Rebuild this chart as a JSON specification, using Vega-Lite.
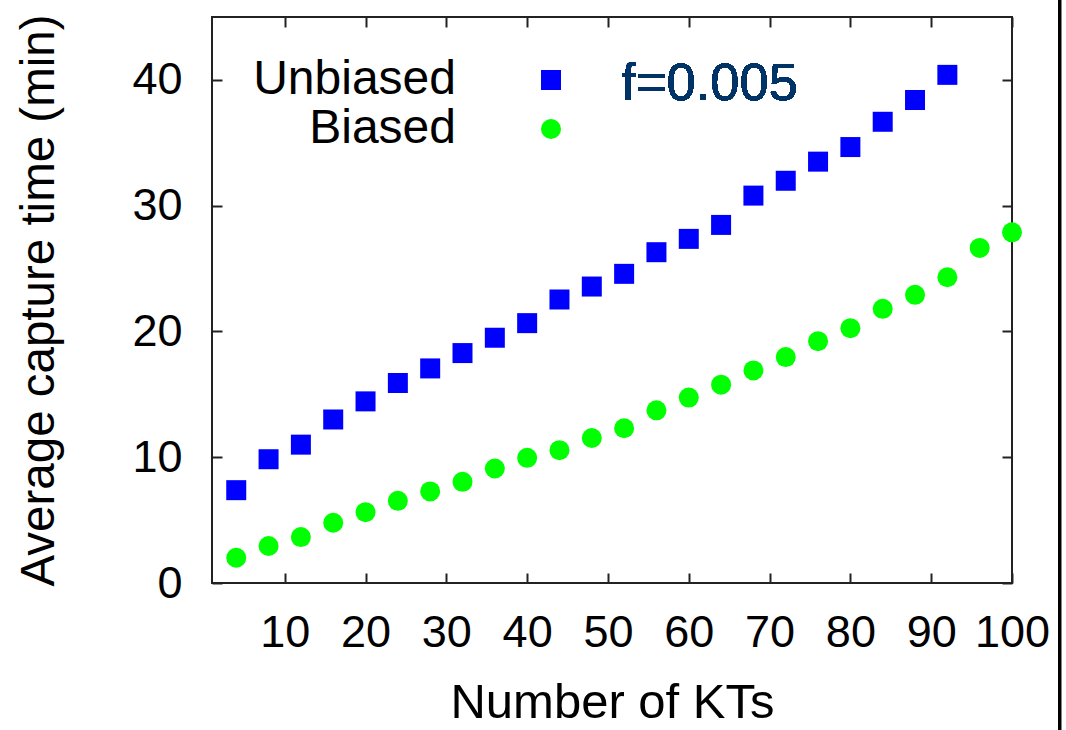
{
  "$schema": "https://vega.github.io/schema/vega-lite/v6.json",
  "width": 800,
  "height": 566,
  "autosize": {"type": "none"},
  "padding": {"left": 212, "top": 17, "right": 54, "bottom": 147},
  "background": "white",
  "config": {
    "view": {"stroke": "#222222", "strokeWidth": 2},
    "font": "Liberation Sans",
    "axis": {
      "grid": false,
      "domain": false,
      "tickColor": "#222222",
      "tickWidth": 2,
      "tickSize": -10,
      "labelFont": "Liberation Sans",
      "labelFontSize": 45,
      "labelColor": "black",
      "titleFont": "Liberation Sans",
      "titleFontSize": 47.5,
      "titleFontWeight": "normal",
      "titleColor": "black"
    }
  },
  "data": {
    "values": [
      {"kts": 4, "time": 7.38, "series": "Unbiased"},
      {"kts": 8, "time": 9.84, "series": "Unbiased"},
      {"kts": 12, "time": 11.0, "series": "Unbiased"},
      {"kts": 16, "time": 13.0, "series": "Unbiased"},
      {"kts": 20, "time": 14.44, "series": "Unbiased"},
      {"kts": 24, "time": 15.9, "series": "Unbiased"},
      {"kts": 28, "time": 17.06, "series": "Unbiased"},
      {"kts": 32, "time": 18.28, "series": "Unbiased"},
      {"kts": 36, "time": 19.5, "series": "Unbiased"},
      {"kts": 40, "time": 20.66, "series": "Unbiased"},
      {"kts": 44, "time": 22.54, "series": "Unbiased"},
      {"kts": 48, "time": 23.57, "series": "Unbiased"},
      {"kts": 52, "time": 24.58, "series": "Unbiased"},
      {"kts": 56, "time": 26.3, "series": "Unbiased"},
      {"kts": 60, "time": 27.36, "series": "Unbiased"},
      {"kts": 64, "time": 28.47, "series": "Unbiased"},
      {"kts": 68, "time": 30.8, "series": "Unbiased"},
      {"kts": 72, "time": 31.98, "series": "Unbiased"},
      {"kts": 76, "time": 33.5, "series": "Unbiased"},
      {"kts": 80, "time": 34.66, "series": "Unbiased"},
      {"kts": 84, "time": 36.67, "series": "Unbiased"},
      {"kts": 88, "time": 38.4, "series": "Unbiased"},
      {"kts": 92, "time": 40.4, "series": "Unbiased"},
      {"kts": 4, "time": 2.01, "series": "Biased"},
      {"kts": 8, "time": 2.94, "series": "Biased"},
      {"kts": 12, "time": 3.65, "series": "Biased"},
      {"kts": 16, "time": 4.79, "series": "Biased"},
      {"kts": 20, "time": 5.63, "series": "Biased"},
      {"kts": 24, "time": 6.53, "series": "Biased"},
      {"kts": 28, "time": 7.28, "series": "Biased"},
      {"kts": 32, "time": 8.04, "series": "Biased"},
      {"kts": 36, "time": 9.1, "series": "Biased"},
      {"kts": 40, "time": 9.95, "series": "Biased"},
      {"kts": 44, "time": 10.56, "series": "Biased"},
      {"kts": 48, "time": 11.53, "series": "Biased"},
      {"kts": 52, "time": 12.3, "series": "Biased"},
      {"kts": 56, "time": 13.73, "series": "Biased"},
      {"kts": 60, "time": 14.74, "series": "Biased"},
      {"kts": 64, "time": 15.77, "series": "Biased"},
      {"kts": 68, "time": 16.9, "series": "Biased"},
      {"kts": 72, "time": 17.96, "series": "Biased"},
      {"kts": 76, "time": 19.23, "series": "Biased"},
      {"kts": 80, "time": 20.26, "series": "Biased"},
      {"kts": 84, "time": 21.8, "series": "Biased"},
      {"kts": 88, "time": 22.91, "series": "Biased"},
      {"kts": 92, "time": 24.31, "series": "Biased"},
      {"kts": 96, "time": 26.64, "series": "Biased"},
      {"kts": 100, "time": 27.88, "series": "Biased"}
    ]
  },
  "resolve": {"axis": {"x": "independent", "y": "independent"}},
  "layer": [
    {
      "mark": {"type": "point", "filled": true, "opacity": 1, "size": 400, "strokeWidth": 0},
      "encoding": {
        "x": {
          "field": "kts", "type": "quantitative",
          "scale": {"domain": [1, 100], "nice": false, "zero": false},
          "axis": {"orient": "bottom", "values": [10, 20, 30, 40, 50, 60, 70, 80, 90, 100], "title": "Number of KTs", "titleFontSize": 49, "labelPadding": 37, "titlePadding": 23, "labelFlush": false, "labelOverlap": false}
        },
        "y": {
          "field": "time", "type": "quantitative",
          "scale": {"domain": [0, 45], "nice": false, "zero": false},
          "axis": {"orient": "left", "values": [0, 10, 20, 30, 40], "title": "Average capture time (min)", "labelPadding": 40, "titlePadding": 68, "labelFlush": false, "labelOverlap": false}
        },
        "color": {
          "field": "series", "type": "nominal",
          "scale": {"domain": ["Unbiased", "Biased"], "range": ["#0000ff", "#00ff00"]},
          "legend": {"orient": "none", "legendX": 315, "legendY": 39, "title": null, "labelFont": "Liberation Sans", "labelFontSize": 48, "labelColor": "black", "labelAlign": "right", "labelOffset": -119, "symbolSize": 400, "symbolStrokeWidth": 0, "rowPadding": 1, "labelLimit": 0}
        },
        "shape": {
          "field": "series", "type": "nominal",
          "scale": {"domain": ["Unbiased", "Biased"], "range": ["square", "circle"]},
          "legend": {"orient": "none", "legendX": 315, "legendY": 39, "title": null, "labelFont": "Liberation Sans", "labelFontSize": 48, "labelColor": "black", "labelAlign": "right", "labelOffset": -119, "symbolSize": 400, "symbolStrokeWidth": 0, "rowPadding": 1, "labelLimit": 0}
        }
      }
    },
    {
      "mark": {"type": "text", "text": "f=0.005", "font": "Liberation Sans", "fontSize": 52.5, "color": "#003366", "align": "left", "baseline": "alphabetic"},
      "encoding": {
        "x": {"datum": 51.65, "type": "quantitative", "scale": {"domain": [1, 100], "nice": false, "zero": false},
          "axis": {"orient": "top", "values": [10, 20, 30, 40, 50, 60, 70, 80, 90, 100], "labels": false, "title": null}},
        "y": {"datum": 38.4, "type": "quantitative", "scale": {"domain": [0, 45], "nice": false, "zero": false},
          "axis": {"orient": "right", "values": [0, 10, 20, 30, 40], "labels": false, "title": null}}
      }
    },
    {
      "mark": {"type": "rule", "color": "black", "strokeWidth": 3},
      "encoding": {
        "x": {"datum": 105.88, "type": "quantitative", "scale": {"domain": [1, 100], "nice": false, "zero": false}, "axis": null},
        "y": {"datum": 46.5, "type": "quantitative", "scale": {"domain": [0, 45], "nice": false, "zero": false}, "axis": null},
        "y2": {"datum": -11.8}
      }
    }
  ]
}
